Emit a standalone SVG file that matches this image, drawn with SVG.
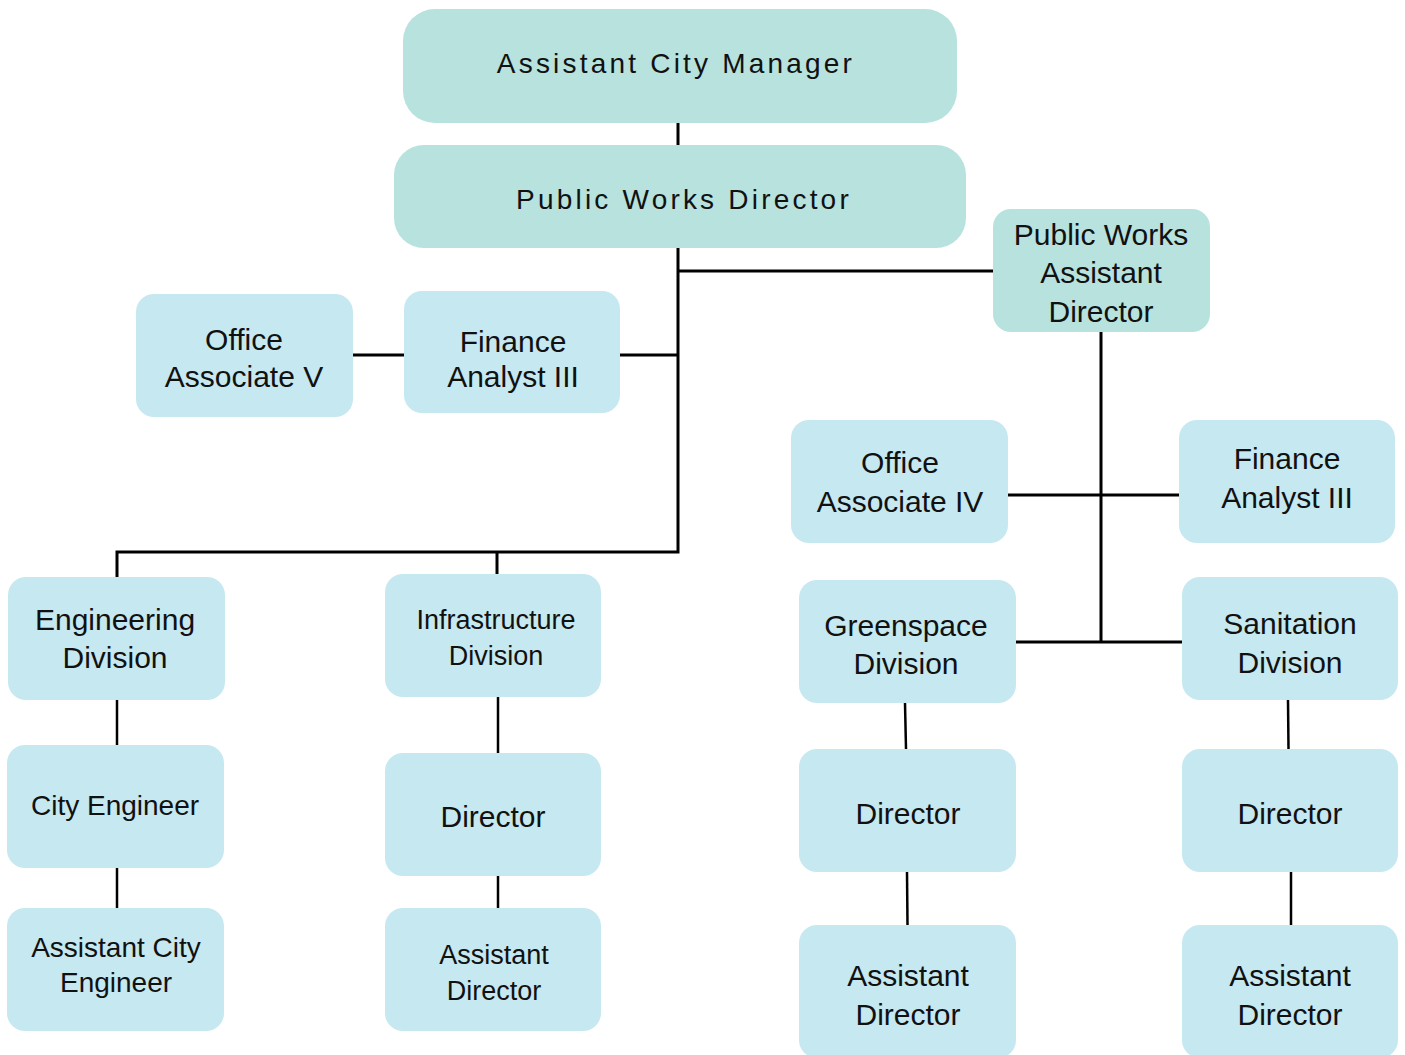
<svg xmlns="http://www.w3.org/2000/svg" width="1405" height="1055" viewBox="0 0 1405 1055">
<style>
.top{fill:#b7e2de}
.box{fill:#c6e8f0}
text{font-family:"Liberation Sans",Arial,sans-serif;font-size:30px;fill:#111;text-anchor:middle}
.sp{font-size:28px;letter-spacing:3.2px}
.ln{stroke:#000;stroke-width:3;fill:none}
.ln2{stroke:#000;stroke-width:2.5;fill:none}
</style>
<rect width="1405" height="1055" fill="#fff"/>
<g id="connectors">
<path class="ln" d="M678 123V145"/>
<path class="ln" d="M678 248V552H117V577"/>
<path class="ln" d="M497 552V574"/>
<path class="ln" d="M678 271H993"/>
<path class="ln" d="M353 355H404"/>
<path class="ln" d="M620 355H678"/>
<path class="ln" d="M1101 332V642"/>
<path class="ln" d="M1008 495H1179"/>
<path class="ln" d="M1016 642H1182"/>
<path class="ln2" d="M117 700V745"/>
<path class="ln2" d="M117 868V908"/>
<path class="ln2" d="M498 697V753"/>
<path class="ln2" d="M498 876V908"/>
<path class="ln2" d="M905 703L906 749"/>
<path class="ln2" d="M907 872L907.5 925"/>
<path class="ln2" d="M1288 700L1288.5 749"/>
<path class="ln2" d="M1291 872V925"/>
</g>
<g id="acm"><rect class="top" x="403" y="9" width="554" height="114" rx="32"/><text class="sp" x="676" y="73">Assistant City Manager</text></g>
<g id="pwd"><rect class="top" x="394" y="145" width="572" height="103" rx="30"/><text class="sp" x="684" y="209">Public Works Director</text></g>
<g id="pwad"><rect class="top" x="993" y="209" width="217" height="123" rx="18"/><text x="1101" y="245">Public Works</text><text x="1101" y="283">Assistant</text><text x="1101" y="322">Director</text></g>
<g id="oa5"><rect class="box" x="136" y="294" width="217" height="123" rx="18"/><text x="244" y="350">Office</text><text x="244" y="387">Associate V</text></g>
<g id="fa3l"><rect class="box" x="404" y="291" width="216" height="122" rx="18"/><text x="513" y="352">Finance</text><text x="513" y="387">Analyst III</text></g>
<g id="oa4"><rect class="box" x="791" y="420" width="217" height="123" rx="18"/><text x="900" y="473">Office</text><text x="900" y="512">Associate IV</text></g>
<g id="fa3r"><rect class="box" x="1179" y="420" width="216" height="123" rx="18"/><text x="1287" y="469">Finance</text><text x="1287" y="508">Analyst III</text></g>
<g id="eng"><rect class="box" x="8" y="577" width="217" height="123" rx="18"/><text x="115" y="630">Engineering</text><text x="115" y="668">Division</text></g>
<g id="ce"><rect class="box" x="7" y="745" width="217" height="123" rx="18"/><text x="115" y="815" style="font-size:28px">City Engineer</text></g>
<g id="ace"><rect class="box" x="7" y="908" width="217" height="123" rx="18"/><text x="116" y="957" style="font-size:28px">Assistant City</text><text x="116" y="992" style="font-size:28px">Engineer</text></g>
<g id="inf"><rect class="box" x="385" y="574" width="216" height="123" rx="18"/><text x="496" y="629" style="font-size:27px">Infrastructure</text><text x="496" y="665" style="font-size:27px">Division</text></g>
<g id="infd"><rect class="box" x="385" y="753" width="216" height="123" rx="18"/><text x="493" y="827">Director</text></g>
<g id="infad"><rect class="box" x="385" y="908" width="216" height="123" rx="18"/><text x="494" y="964" style="font-size:27px">Assistant</text><text x="494" y="1000" style="font-size:27px">Director</text></g>
<g id="gs"><rect class="box" x="799" y="580" width="217" height="123" rx="18"/><text x="906" y="636">Greenspace</text><text x="906" y="674">Division</text></g>
<g id="gsd"><rect class="box" x="799" y="749" width="217" height="123" rx="18"/><text x="908" y="824">Director</text></g>
<g id="gsad"><rect class="box" x="799" y="925" width="217" height="133" rx="18"/><text x="908" y="986">Assistant</text><text x="908" y="1025">Director</text></g>
<g id="san"><rect class="box" x="1182" y="577" width="216" height="123" rx="18"/><text x="1290" y="634">Sanitation</text><text x="1290" y="673">Division</text></g>
<g id="sand"><rect class="box" x="1182" y="749" width="216" height="123" rx="18"/><text x="1290" y="824">Director</text></g>
<g id="sanad"><rect class="box" x="1182" y="925" width="216" height="133" rx="18"/><text x="1290" y="986">Assistant</text><text x="1290" y="1025">Director</text></g>
</svg>
